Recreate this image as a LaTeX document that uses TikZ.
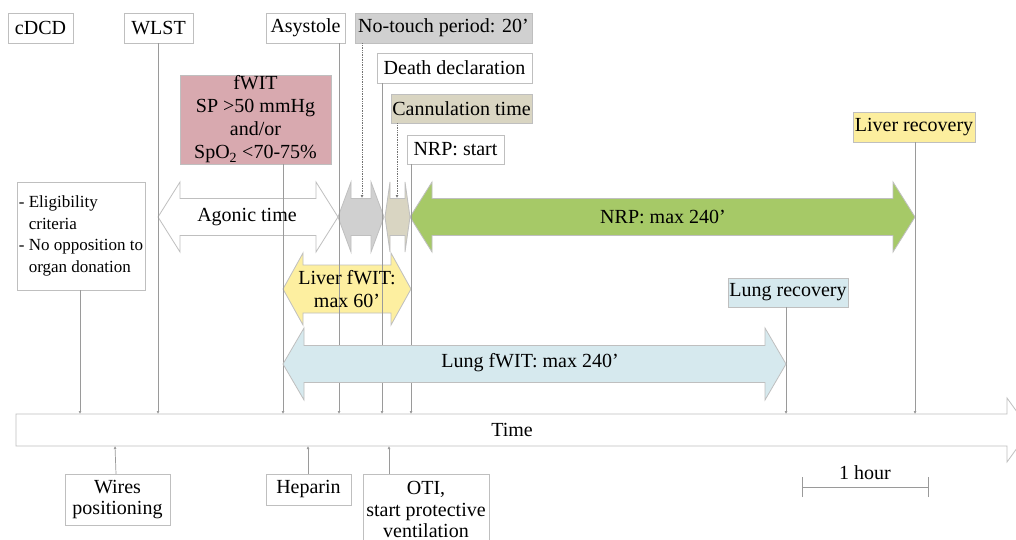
\documentclass[tikz,border=0pt]{standalone}
\usepackage{fontspec}
\setmainfont{Liberation Serif}
\usetikzlibrary{arrows.meta}
\definecolor{bordergray}{HTML}{BFBFBF}
\definecolor{linegray}{HTML}{9A9A9A}
\definecolor{pinkfill}{HTML}{D8A9AF}
\definecolor{greyfill}{HTML}{D0D0D0}
\definecolor{tanfill}{HTML}{D9D5C2}
\definecolor{greenfill}{HTML}{A6C967}
\definecolor{yellowfill}{HTML}{FDEFA0}
\definecolor{bluefill}{HTML}{D6E9EE}
\definecolor{liverbox}{HTML}{FCEE9E}
\newcommand\dbarrow[7]{% style, x1, x2, yc, shaft half, head half, head length
  \filldraw[#1] (#2,#4) -- (#2+#7,#4-#6) -- (#2+#7,#4-#5) -- (#3-#7,#4-#5) -- (#3-#7,#4-#6) -- (#3,#4)
    -- (#3-#7,#4+#6) -- (#3-#7,#4+#5) -- (#2+#7,#4+#5) -- (#2+#7,#4+#6) -- cycle;}
\tikzset{
  box/.style={draw=bordergray, line width=0.8pt, inner sep=0pt, align=center, font=\fontsize{20}{23}\selectfont},
  lbl/.style={inner sep=0pt, align=center, font=\fontsize{20}{23}\selectfont},
  conn/.style={draw=linegray, line width=0.7pt, -{Latex[length=3pt,width=3pt]}},
  dotconn/.style={conn, draw=black!55, densely dotted, line width=0.8pt},
  arr/.style={draw=bordergray, line width=0.8pt},
}
\begin{document}
\begin{tikzpicture}[x=1pt,y=-1pt]
\useasboundingbox (0,0) rectangle (1016,540);
\clip (0,0) rectangle (1016,540);
\fill[white] (0,0) rectangle (1016,540);

% ---- big arrows (under the connectors)
\dbarrow{arr, fill=white}{158}{338}{217}{18.5}{35}{22}
\dbarrow{arr, fill=yellowfill}{283}{411}{289}{24}{36}{20}
\dbarrow{arr, fill=greyfill}{338}{384}{217}{18.5}{35}{13}
\dbarrow{arr, fill=tanfill}{385}{410}{217}{18.5}{35}{5}
\dbarrow{arr, fill=greenfill}{410}{915}{217}{18.5}{35}{22}
% time bar
\filldraw[arr, fill=white] (16,414) -- (1007,414) -- (1007,398) -- (1030,430) -- (1007,462) -- (1007,446) -- (16,446) -- cycle;

% ---- coordinates on the time bar
\coordinate (tElig) at (80,414);
\coordinate (tWLST) at (158,414);
\coordinate (tfWIT) at (283,414);
\coordinate (tAsys) at (339,414);
\coordinate (tDeath) at (382,414);
\coordinate (tNRP) at (411,414);
\coordinate (tLung) at (786,414);
\coordinate (tLiver) at (915,414);
\coordinate (bWires) at (115,446);
\coordinate (bHep) at (308,446);
\coordinate (bOTI) at (389,446);
\coordinate (gHex) at (362,198);
\coordinate (tHex) at (397,198);

% ---- top boxes
\node[box, minimum width=65pt, minimum height=30pt] (cDCD) at (40.5,28) {cDCD};
\node[box, minimum width=69pt, minimum height=30pt] (WLST) at (158.5,28) {WLST};
\node[box, minimum width=79pt, minimum height=30pt] (Asys) at (305.5,28) {Asystole};
\node[box, fill=greyfill, minimum width=177pt, minimum height=30pt] (NoTouch) at (443.5,28) {No-touch period: 20'};
\node[box, minimum width=155pt, minimum height=30pt] (Death) at (454.5,68) {Death declaration};
\node[box, fill=tanfill, minimum width=141pt, minimum height=29pt] (Cann) at (461.5,108.5) {Cannulation time};
\node[box, minimum width=97pt, minimum height=29pt] (NRPs) at (455.5,149.5) {NRP: start};
\node[box, fill=pinkfill, minimum width=151pt, minimum height=89pt] (fWIT) at (255.5,119.5) {fWIT\\SP >50 mmHg\\and/or\\SpO\textsubscript{2} <70-75\%};
\node[box, fill=liverbox, minimum width=122pt, minimum height=30pt] (LiverR) at (914,127) {Liver recovery};
\node[box, fill=bluefill, minimum width=120pt, minimum height=29pt] (LungR) at (788,292.5) {Lung recovery};
\node[box, align=left, minimum width=128pt, minimum height=108pt, font=\fontsize{17}{21.5}\selectfont] (Elig) at (81,236)
  {- Eligibility\\\phantom{- }criteria\\- No opposition to\\\phantom{- }organ donation};

% ---- bottom boxes
\node[box, minimum width=105pt, minimum height=51pt] (Wires) at (117.5,499.5) {Wires\\[-2pt]positioning};
\node[box, minimum width=85pt, minimum height=31pt] (Hep) at (308.5,489.5) {Heparin};
\node[box, minimum width=126pt, minimum height=80pt] (OTIbox) at (426,514) {};
\node[lbl, font=\fontsize{20}{21.5}\selectfont] (OTI) at (426,509.5) {OTI,\\start protective\\ventilation};

% ---- connectors
\draw[conn] (Elig.south -| tElig) -- (tElig);
\draw[conn] (WLST.south -| tWLST) -- (tWLST);
\draw[conn] (fWIT.south -| tfWIT) -- (tfWIT);
\draw[conn] (Asys.south -| tAsys) -- (tAsys);
\draw[conn] (Death.south -| tDeath) -- (tDeath);
\draw[conn] (NRPs.south -| tNRP) -- (tNRP);
\draw[conn] (LungR.south -| tLung) -- (tLung);
\draw[conn] (LiverR.south -| tLiver) -- (tLiver);
\draw[dotconn] (NoTouch.south -| gHex) -- (gHex);
\draw[dotconn] (Cann.south -| tHex) -- (tHex);
\draw[conn] (116,474) -- (bWires);
\draw[conn] (Hep.north -| bHep) -- (bHep);
\draw[conn] (OTIbox.north -| bOTI) -- (bOTI);

% ---- lung arrow (over the connectors)
\dbarrow{arr, fill=bluefill}{283}{786}{364}{18.5}{36}{21}

% ---- arrow labels
\node[lbl] (agonic) at (247,217) {Agonic time};
\node[lbl] (nrpmax) at (663,217) {NRP: max 240'};
\node[lbl, font=\fontsize{20}{23}\selectfont] (liverf) at (347,289) {Liver fWIT:\\max 60'};
\node[lbl] (lungf) at (530,363) {Lung fWIT: max 240'};
\node[lbl] (time) at (512,430) {Time};

% ---- scale
\coordinate (s1) at (802,487);
\coordinate (s2) at (928,487);
\draw[draw=linegray, line width=0.8pt] (s1) -- (s2);
\draw[draw=linegray, line width=0.8pt] ([yshift=-10pt]s1) -- ([yshift=10pt]s1);
\draw[draw=linegray, line width=0.8pt] ([yshift=-10pt]s2) -- ([yshift=10pt]s2);
\node[lbl] (hour) at (865,473) {1 hour};
\end{tikzpicture}
\end{document}
